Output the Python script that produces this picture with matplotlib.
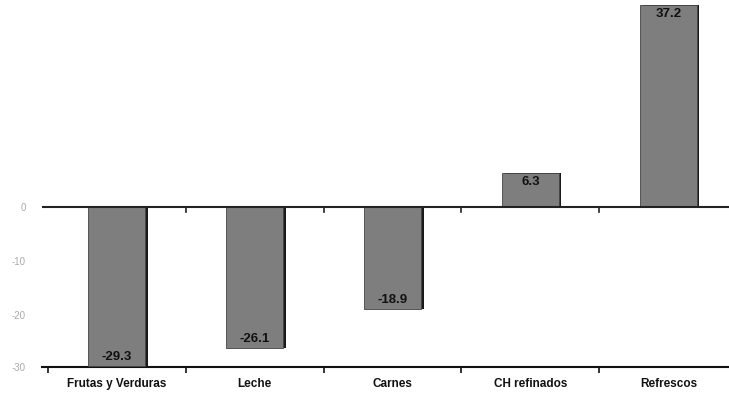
import matplotlib.pyplot as plt

categorias = ['Frutas y Verduras', 'Leche', 'Carnes', 'CH refinados', 'Refrescos']
cambio = [-29.3, -26.1, -18.9, 6.3, 37.2]
etiquetas = ['-29.3', '-26.1', '-18.9', '6.3', '37.2']
yticks = [0, -10, -20, -29.5]
ytick_labels = ['0', '-10', '-20', '-30']

plt.rcParams['font.family'] = ['Liberation Sans', 'DejaVu Sans']

fig = plt.figure(figsize=(7.29, 3.95), dpi=100)
ax = fig.add_axes([0.058, 0.071, 0.942, 0.929])

x = list(range(len(categorias)))
# shadow on the right side of each bar
ax.bar([i + 0.02 for i in x], cambio, width=0.41, color='#1a1a1a', zorder=2)
ax.bar(x, cambio, width=0.41, color='#7e7e7e', edgecolor='#444444', linewidth=0.6, zorder=3)

for i, (v, lab) in enumerate(zip(cambio, etiquetas)):
    if v > 0:
        ax.text(i, v - 0.6, lab, ha='center', va='top', fontsize=9.5, fontweight='bold', color='#111111', zorder=4)
    else:
        ax.text(i, v + 0.6, lab, ha='center', va='bottom', fontsize=9.5, fontweight='bold', color='#111111', zorder=4)

ax.set_xlim(-0.54, 4.44)
ax.set_ylim(-29.5, 38.1)

# zero line with small ticks
ax.axhline(0, color='#222222', linewidth=1.5, zorder=5)
for b in [0.5, 1.5, 2.5, 3.5]:
    ax.plot([b, b], [0, -1.0], color='#222222', linewidth=1.2, zorder=5)

for s in ['top', 'right', 'left']:
    ax.spines[s].set_visible(False)
ax.spines['bottom'].set_linewidth(1.5)
ax.spines['bottom'].set_color('#111111')

ax.set_xticks([-0.5, 0.5, 1.5, 2.5, 3.5])
ax.set_xticklabels([])
ax.tick_params(axis='x', length=4, width=1.2, color='#111111', direction='out')
for i, c in enumerate(categorias):
    ax.text(i, -31.5, c, ha='center', va='top', fontsize=8.5, fontweight='bold', color='#111111')

ax.set_yticks(yticks)
ax.set_yticklabels(ytick_labels, color='#aaaaaa', fontsize=7)
ax.tick_params(axis='y', length=0, pad=12)

fig.savefig('out.png', dpi=100)
